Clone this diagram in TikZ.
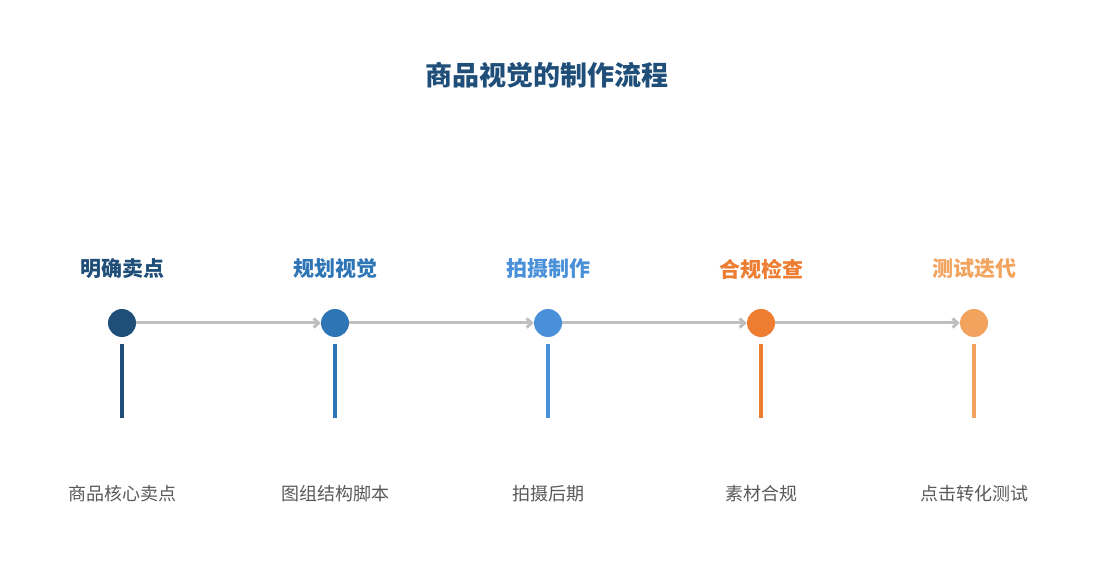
\documentclass[tikz,border=0pt]{standalone}
\usepackage{fontspec}
\newfontfamily\cjk{Noto Sans CJK SC}
\newfontfamily\cjkb{Noto Sans CJK SC Bold}
\usetikzlibrary{arrows.meta}
\definecolor{c1}{HTML}{1F4E79}
\definecolor{c2}{HTML}{2E75B6}
\definecolor{c3}{HTML}{4A90D9}
\definecolor{c4}{HTML}{ED7D31}
\definecolor{c5}{HTML}{F2A35E}
\definecolor{ln}{HTML}{BFBFBF}
\definecolor{tx}{HTML}{595959}
\begin{document}
\begin{tikzpicture}[x=1pt,y=-1pt,
  dot/.style={circle,fill=#1,minimum size=28pt,inner sep=0pt},
  head/.style={font=\cjk\bfseries\fontsize{21}{24}\selectfont,text=#1},
  desc/.style={font=\cjk\fontsize{18}{21}\selectfont,text=tx},
  conn/.style={draw=ln,line width=3pt,-{Straight Barb[length=5pt,width=9pt]}},
  stem/.style={draw=#1,line width=3.5pt}]
\useasboundingbox (0,0) rectangle (1095,585);
\node[font=\cjk\bfseries\fontsize{27}{30}\selectfont,text=c1] (title) at (547,75) {商品视觉的制作流程};
\foreach \i/\x/\c/\h/\d in {1/122/c1/明确卖点/商品核心卖点,2/335/c2/规划视觉/图组结构脚本,3/548/c3/拍摄制作/拍摄后期,4/761/c4/合规检查/素材合规,5/974/c5/测试迭代/点击转化测试}{
  \node[head=\c] (h\i) at (\x,269) {\h};
  \node[dot=\c] (n\i) at (\x,323) {};
  \coordinate (a\i) at (\x,344);
  \coordinate (b\i) at (\x,418);
  \draw[stem=\c] (a\i) -- (b\i);
  \node[desc] (d\i) at (\x,494) {\d};
}
\foreach \i/\j in {1/2,2/3,3/4,4/5}{
  \draw[conn] (n\i) -- (n\j);
}
\end{tikzpicture}
\end{document}
